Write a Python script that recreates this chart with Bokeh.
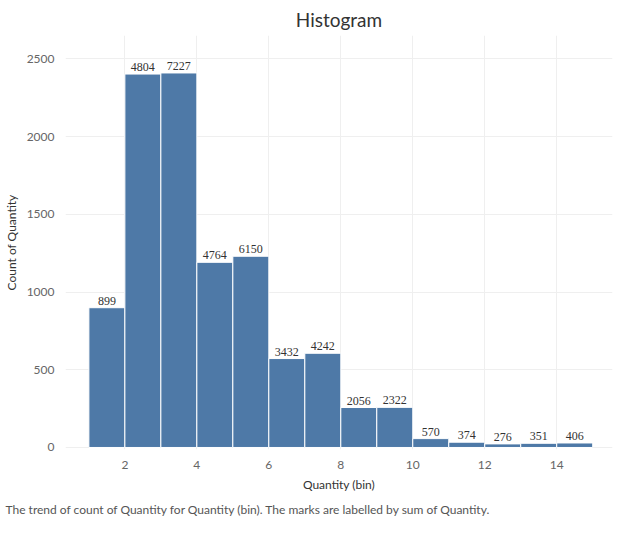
from bokeh.plotting import figure
from bokeh.models import ColumnDataSource, Title, Range1d, FixedTicker, LabelSet
from bokeh.embed import file_html
from bokeh.resources import INLINE

bin_start = [1, 2, 3, 4, 5, 6, 7, 8, 9, 10, 11, 12, 13, 14]
counts = [899, 2402, 2409, 1191, 1230, 572, 606, 257, 258, 57, 34, 23, 27, 29]
sum_labels = [899, 4804, 7227, 4764, 6150, 3432, 4242, 2056, 2322, 570, 374, 276, 351, 406]

src = ColumnDataSource(dict(
    left=bin_start, right=[b + 1 for b in bin_start], mid=[b + 0.5 for b in bin_start],
    top=counts, lab=[str(v) for v in sum_labels]))

p = figure(width=614, height=521, output_backend="svg", toolbar_location=None,
           x_range=Range1d(0.35, 15.55), y_range=Range1d(-13, 2650),
           min_border_left=10, min_border_right=2, min_border_top=10, min_border_bottom=10)
p.title = Title(text="Histogram", align="center", text_font="Lato", text_font_size="19px",
                text_color="#333333", text_font_style="normal")
p.add_layout(Title(text="The trend of count of Quantity for Quantity (bin). The marks are labelled by sum of Quantity.",
                   align="left", text_font="Lato", text_font_size="12px", text_color="#555555",
                   text_font_style="normal", offset=-60), "below")
p.quad(left="left", right="right", bottom=0, top="top", source=src,
       fill_color="#4e79a7", line_color="white", line_width=1)
p.add_layout(LabelSet(x="mid", y="top", text="lab", source=src, text_align="center",
                      y_offset=3, text_font_size="12px", text_color="#333333", text_font="Lato"))
p.xaxis.ticker = FixedTicker(ticks=[2, 4, 6, 8, 10, 12, 14])
p.yaxis.ticker = FixedTicker(ticks=[0, 500, 1000, 1500, 2000, 2500])
p.xaxis.axis_label = "Quantity (bin)"
p.yaxis.axis_label = "Count of Quantity"
for ax in (p.xaxis[0], p.yaxis[0]):
    ax.axis_line_color = None
    ax.major_tick_line_color = None
    ax.minor_tick_line_color = None
    ax.major_label_text_font = "Lato"
    ax.major_label_text_font_size = "12px"
    ax.major_label_text_color = "#666666"
    ax.axis_label_text_font = "Lato"
    ax.axis_label_text_font_size = "12px"
    ax.axis_label_text_font_style = "normal"
    ax.axis_label_text_color = "#333333"
p.grid.grid_line_color = "#efefef"
p.outline_line_color = None

open("out.html", "w").write(file_html(p, INLINE))
